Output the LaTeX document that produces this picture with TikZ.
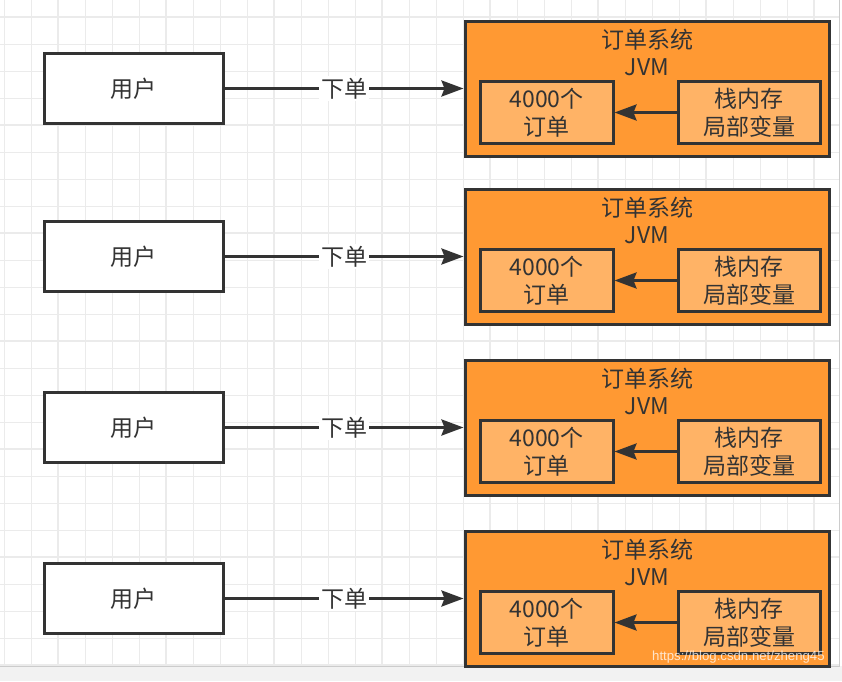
\documentclass[tikz,border=0pt]{standalone}
\usepackage{fontspec}
\setmainfont{Noto Sans CJK SC}
\newfontfamily\wmfont{Liberation Sans}
\usetikzlibrary{arrows.meta}
\definecolor{ink}{HTML}{333333}
\definecolor{orangefill}{HTML}{FF9933}
\definecolor{innerfill}{HTML}{FFB366}
\definecolor{gridc}{HTML}{EBEBEB}
\definecolor{bandc}{HTML}{F2F2F2}
\tikzset{
  userbox/.style={draw=ink, line width=3pt, fill=white, minimum width=179pt, minimum height=70pt, inner sep=0pt, text=ink, font=\fontsize{23}{27}\selectfont},
  jvmbox/.style={draw=ink, line width=3pt, fill=orangefill, minimum width=364pt, minimum height=135pt, inner sep=0pt},
  innerbox/.style={draw=ink, line width=3pt, fill=innerfill, minimum height=62pt, inner sep=0pt, text=ink, align=center, font=\fontsize{23}{28}\selectfont},
  titletext/.style={text=ink, align=center, inner sep=0pt, font=\fontsize{23}{26.5}\selectfont},
  flow/.style={draw=ink, line width=3pt, -{Stealth[length=22pt,width=16pt,inset=3pt]}},
  lbl/.style={fill=white, text=ink, inner sep=2pt, font=\fontsize{23}{26}\selectfont}
}
\begin{document}
\begin{tikzpicture}[x=1pt,y=-1pt]
\useasboundingbox (0,0) rectangle (842,681);
% background grid
\begin{scope}
\clip (0,0) rectangle (839,666);
\foreach \k in {0,...,31} {
  \draw[gridc, line width=1pt] ({4+27*\k},0) -- ({4+27*\k},666);
}
\foreach \k in {0,...,24} {
  \draw[gridc, line width=1pt] (0,{17+27*\k}) -- (842,{17+27*\k});
}
\foreach \k in {0,...,7} {
  \draw[gridc, line width=1.8pt] ({58+108*\k},0) -- ({58+108*\k},666);
}
\foreach \k in {0,...,6} {
  \draw[gridc, line width=1.8pt] (0,{17+108*\k}) -- (842,{17+108*\k});
}
\end{scope}
\fill[bandc] (0,666) rectangle (842,681);
\draw[gray!40, line width=1pt] (0,666) -- (839,666) -- (839,0);
% rows
\foreach \r/\dy in {1/0,2/168,3/339,4/510} {
  \node[userbox] (user\r) at (133.5,{88.5+\dy}) {用户};
  \node[jvmbox] (jvm\r) at (647,{88.5+\dy}) {};
  \node[titletext] (title\r) at (647,{52.5+\dy}) {订单系统\\JVM};
  \node[innerbox, minimum width=133pt] (orders\r) at (546.5,{112.5+\dy}) {4000个\\订单};
  \node[innerbox, minimum width=142pt] (stack\r) at (749,{112.5+\dy}) {栈内存\\局部变量};
  \draw[flow] (user\r) -- node[lbl] (label\r) {下单} (jvm\r);
  \draw[flow] (stack\r) -- (orders\r);
}
% watermark
\node[anchor=west, inner sep=0pt, text=white, opacity=0.75, font=\wmfont\fontsize{13.2}{16}\selectfont] (wm) at (652,657) {https://blog.csdn.net/zheng45};
\end{tikzpicture}
\end{document}
